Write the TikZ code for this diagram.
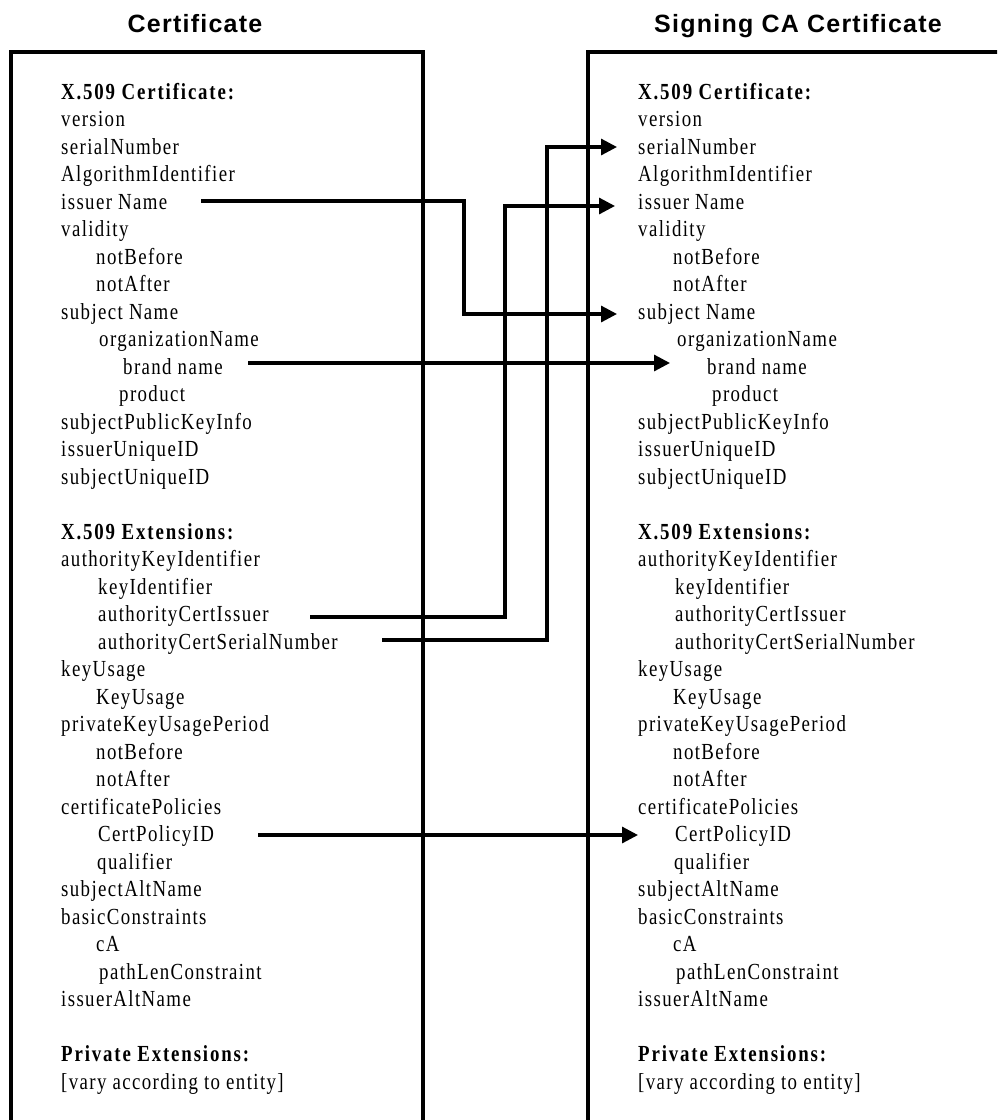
\documentclass[tikz,border=0pt]{standalone}
\usepackage{fontspec}
\setmainfont{Liberation Serif}[FakeStretch=0.82,LetterSpace=6,BoldFeatures={LetterSpace=8}]
\newfontfamily\headfont{Liberation Sans}[LetterSpace=5]
\usetikzlibrary{arrows.meta}
\begin{document}
\begin{tikzpicture}[x=1pt,y=-1pt,
  field/.style={anchor=base west,inner sep=0pt,font=\fontsize{23}{27.5}\selectfont},
  heading/.style={anchor=base,inner sep=0pt,font=\headfont\bfseries\fontsize{25}{30}\selectfont},
  frame/.style={line width=3.2pt},
  link/.style={line width=3.2pt,-{Triangle[length=16pt,width=16pt]}}]
\useasboundingbox (0,0) rectangle (997,1120);
\clip (0,0) rectangle (997,1120);

% column titles
\node[heading] (t1) at (195,32) {Certificate};
\node[heading] (t2) at (798,32) {Signing CA Certificate};

% the two certificate frames (open at the bottom)
\draw[frame] (11,1130) -- (11,52) -- (423,52) -- (423,1130);
\draw[frame] (588,1130) -- (588,52) -- (1010,52);

% field lists: line number / left x / right x / text
\foreach \k/\xl/\xr/\txt in {
  0/61/638/{\textbf{X.509 Certificate:}},
  1/61/638/{version},
  2/61/638/{serialNumber},
  3/61/638/{AlgorithmIdentifier},
  4/61/638/{issuer Name},
  5/61/638/{validity},
  6/96/673/{notBefore},
  7/96/673/{notAfter},
  8/61/638/{subject Name},
  9/99/677/{organizationName},
  10/123/707/{brand name},
  11/119/712/{product},
  12/61/638/{subjectPublicKeyInfo},
  13/61/638/{issuerUniqueID},
  14/61/638/{subjectUniqueID},
  16/61/638/{\textbf{X.509 Extensions:}},
  17/61/638/{authorityKeyIdentifier},
  18/98/675/{keyIdentifier},
  19/98/675/{authorityCertIssuer},
  20/98/675/{authorityCertSerialNumber},
  21/61/638/{keyUsage},
  22/96/673/{KeyUsage},
  23/61/638/{privateKeyUsagePeriod},
  24/96/673/{notBefore},
  25/96/673/{notAfter},
  26/61/638/{certificatePolicies},
  27/98/675/{CertPolicyID},
  28/97/674/{qualifier},
  29/61/638/{subjectAltName},
  30/61/638/{basicConstraints},
  31/96/673/{cA},
  32/99/676/{pathLenConstraint},
  33/61/638/{issuerAltName},
  35/61/638/{\textbf{Private Extensions:}},
  36/61/638/{[vary according to entity]}}
{
  \node[field] (L\k) at (\xl,99.3+27.5*\k) {\txt};
  \node[field] (R\k) at (\xr,99.3+27.5*\k) {\txt};
}

% connector end points
\coordinate (s1) at (201,201);  \coordinate (j1) at (464,314);  \coordinate (e1) at (617,314);
\coordinate (s2) at (248,363);  \coordinate (e2) at (670,363);
\coordinate (s3) at (310,617);  \coordinate (j3) at (505,206);  \coordinate (e3) at (615,206);
\coordinate (s4) at (382,640);  \coordinate (j4) at (547,147);  \coordinate (e4) at (617,147);
\coordinate (s5) at (258,835);  \coordinate (e5) at (638,835);

% issuer Name -> subject Name
\draw[link] (s1) -| (j1) -- (e1);
% brand name -> brand name
\draw[link] (s2) -- (e2);
% authorityCertIssuer -> issuer Name
\draw[link] (s3) -| (j3) -- (e3);
% authorityCertSerialNumber -> serialNumber
\draw[link] (s4) -| (j4) -- (e4);
% CertPolicyID -> CertPolicyID
\draw[link] (s5) -- (e5);
\end{tikzpicture}
\end{document}
